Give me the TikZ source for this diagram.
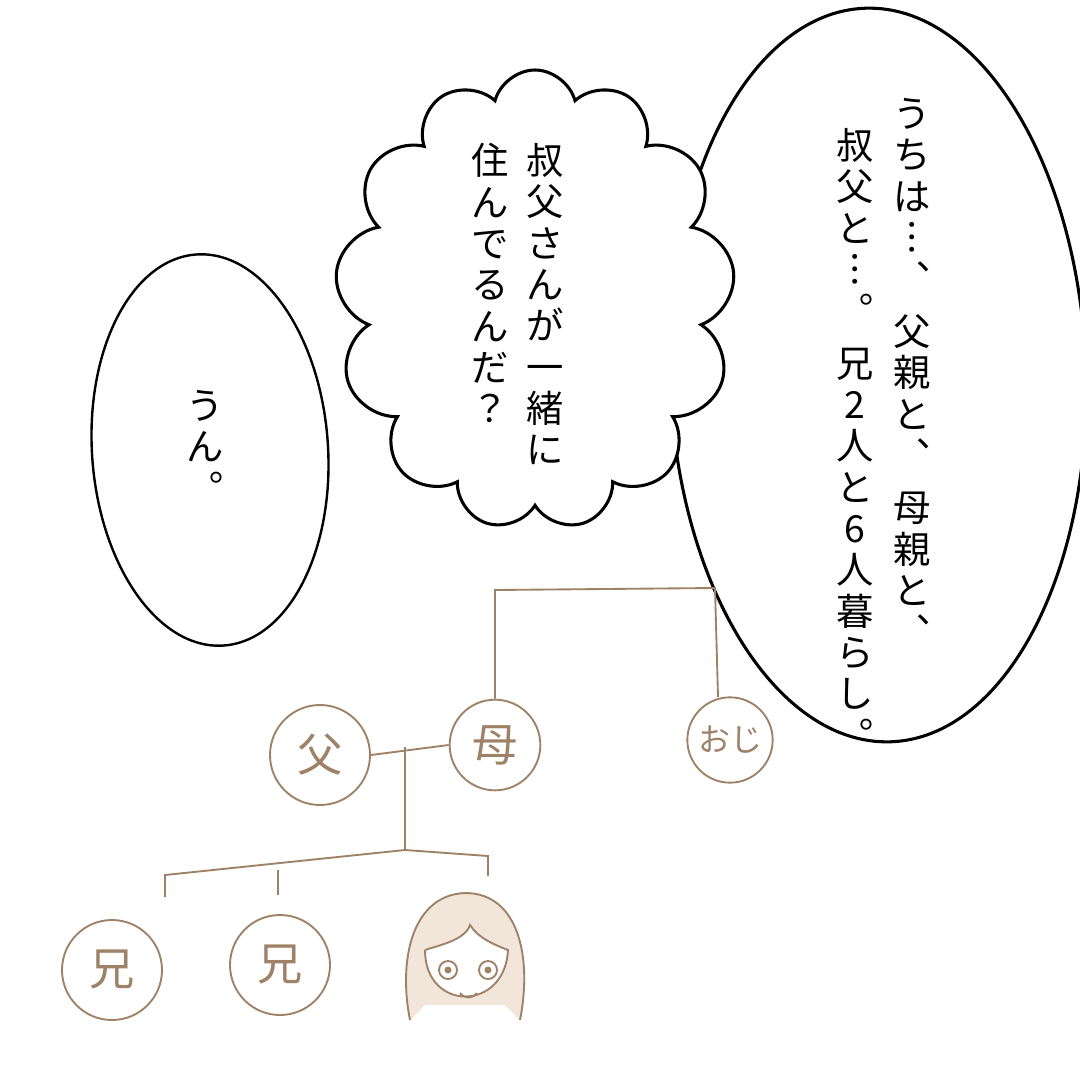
\documentclass[tikz,border=0pt]{standalone}
\usepackage{fontspec}
\newfontfamily\cjk{Noto Sans CJK JP}
\usetikzlibrary{shapes.symbols}
\begin{document}
\begin{tikzpicture}[x=0.75pt,y=-0.75pt,
  bub/.style={draw=black,line width=2.3pt,fill=white},
  vt/.style={font=\cjk\fontsize{28}{31}\selectfont,align=center,anchor=north,inner sep=0pt},
  fam/.style={draw=brown!60!black!70,line width=1.4pt},
  mem/.style={circle,draw=brown!60!black!70,line width=1.4pt,fill=white,font=\cjk\fontsize{34}{34}\selectfont,text=brown!60!black!70}]
\useasboundingbox (0,0) rectangle (1080,1080);
\clip (0,0) rectangle (1080,1080);
\fill[white] (0,0) rectangle (1080,1080);
% bubbles
\draw[bub,rotate around={2:(878,375)}] (878,375) ellipse [x radius=208, y radius=367];
\node[bub,cloud,cloud puffs=13,cloud ignores aspect,minimum width=300pt,minimum height=345pt,inner sep=0pt] (cl) at (535,300) {};
\draw[bub,line width=1.8pt,rotate around={4:(210,450)}] (210,450) ellipse [x radius=118, y radius=196];
% texts
\node[vt] (t1) at (912,98) {う\\ち\\は\\︙\\︑\\[0.3em]父\\親\\と\\︑\\[0.3em]母\\親\\と\\︑};
\node[vt] (t2) at (855,128) {叔\\父\\と\\︙\\︒\\[0.3em]兄\\2\\人\\と\\6\\人\\暮\\ら\\し\\︒};
\node[vt] (t3) at (545,143) {叔\\父\\さ\\ん\\が\\一\\緒\\に};
\node[vt] (t4) at (490,143) {住\\ん\\で\\る\\ん\\だ\\？};
\node[vt] (t5) at (205,390) {う\\ん\\︒};
% family tree
\node[mem,minimum size=75pt] (fa) at (320,755) {父};
\node[mem,minimum size=68pt] (mo) at (495,745) {母};
\node[mem,minimum size=64pt,font=\cjk\fontsize{24}{24}\selectfont] (oj) at (730,740) {おじ};
\node[mem,minimum size=75pt] (b1) at (112,970) {兄};
\node[mem,minimum size=75pt] (b2) at (280,965) {兄};
\coordinate (me) at (465,965);
\coordinate (ot) at (718,697);
\draw[fam] (mo.north) -- (495,590) -- (715,588) -- (ot);
\draw[fam] (fa.east) -- (mo.west);
\coordinate (j1) at (405,747);
\coordinate (j2) at (405,850);
\draw[fam] (j1) -- (j2) -- (165,875) -- (165,897);
\draw[fam] (278,870) -- (278,895);
\draw[fam] (j2) -- (488,856) -- (488,876);
% child face
\fill[brown!20] (410,1020) .. controls (398,960) and (412,895) .. (465,893) .. controls (520,893) and (532,960) .. (520,1020) -- (505,1005) -- (425,1005) -- cycle;
\draw[fam,fill=white] (425,950) .. controls (425,1012) and (505,1012) .. (508,950) .. controls (495,945) and (478,938) .. (470,925) .. controls (465,940) and (440,945) .. (425,950);
\draw[fam] (410,1020) .. controls (398,960) and (412,895) .. (465,893) .. controls (520,893) and (532,960) .. (520,1020);
\draw[fam] (448,970) circle (9); \fill[brown!60!black!70] (448,970) circle (3.5);
\draw[fam] (488,970) circle (9); \fill[brown!60!black!70] (488,970) circle (3.5);
\draw[fam] (460,993) .. controls (465,999) and (472,999) .. (477,993);
\end{tikzpicture}
\end{document}
